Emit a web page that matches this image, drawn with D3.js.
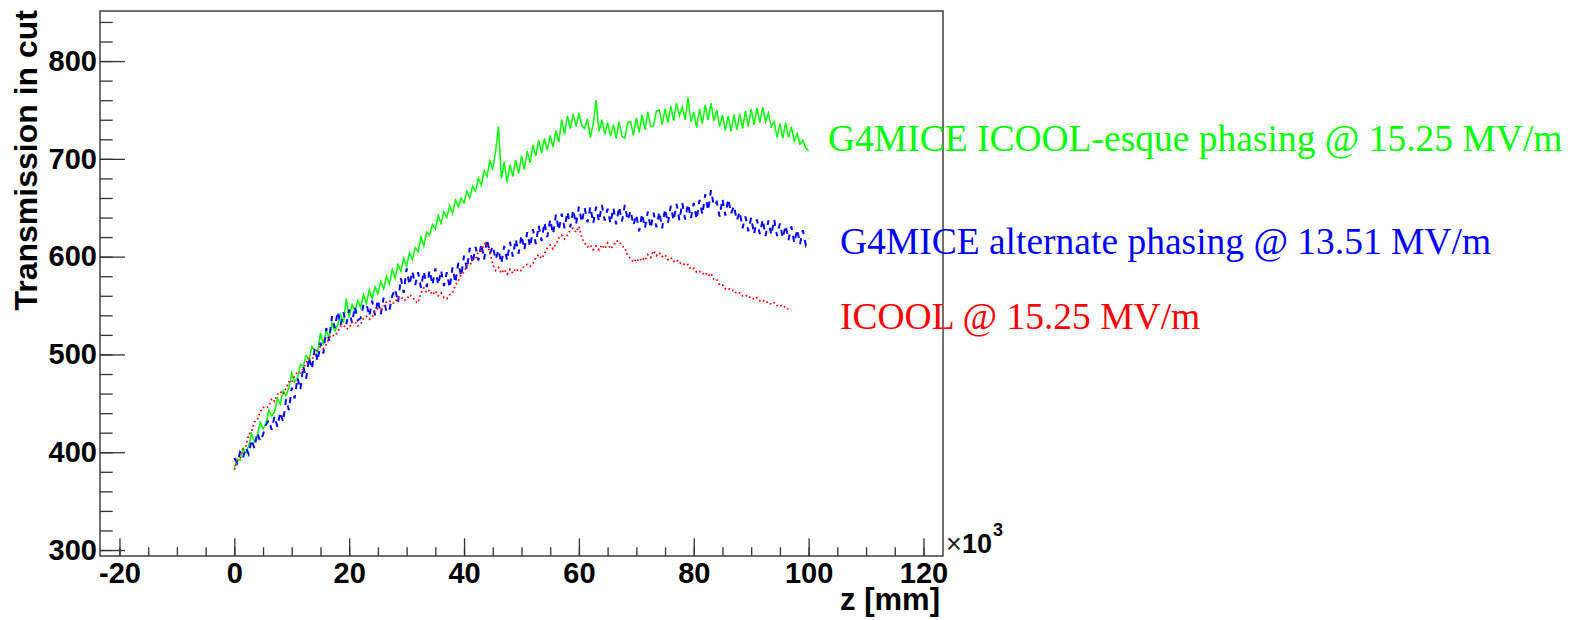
<!DOCTYPE html>
<html>
<head>
<meta charset="utf-8">
<script src="https://cdn.jsdelivr.net/npm/d3@7"></script>
<style>
  html, body { margin: 0; padding: 0; background: #fff; }
  svg { display: block; }
  .tick text { font-family: "Liberation Sans", Arial, sans-serif; font-weight: bold; font-size: 29px; fill: #000; }
  .tick line { stroke: #333; stroke-width: 1.3; }
</style>
</head>
<body>
<svg id="chart" width="1571" height="620"></svg>
<script>
// ---- data (z in units of 10^3 mm, transmission counts) ----
const Z_STEP = 0.5;

// G4MICE ICOOL-esque phasing @ 15.25 MV/m
const greenValues = [
  384, 393, 392, 404, 399, 406, 419, 411, 417, 431,
  424, 429, 443, 437, 441, 455, 449, 463, 458, 466,
  481, 472, 476, 490, 488, 499, 494, 508, 505, 502,
  522, 510, 525, 517, 532, 524, 530, 541, 532, 557,
  538, 551, 544, 555, 548, 561, 552, 566, 557, 569,
  562, 575, 567, 580, 572, 587, 578, 592, 585, 598,
  590, 604, 597, 609, 605, 620, 611, 625, 622, 633,
  628, 642, 634, 646, 640, 652, 644, 658, 651, 660,
  655, 667, 660, 672, 667, 680, 673, 688, 682, 698,
  690, 708, 733, 680, 697, 676, 694, 682, 699, 685,
  703, 689, 708, 696, 714, 703, 719, 706, 721, 709,
  724, 712, 729, 717, 740, 725, 744, 731, 746, 733,
  747, 734, 731, 741, 722, 736, 760, 728, 740, 725,
  737, 723, 735, 721, 738, 723, 721, 737, 738, 724,
  742, 727, 745, 730, 748, 733, 734, 749, 750, 735,
  751, 737, 754, 739, 757, 744, 753, 740, 763, 738,
  748, 732, 751, 736, 755, 740, 757, 739, 750, 733,
  745, 729, 744, 728, 745, 730, 746, 731, 749, 733,
  751, 735, 752, 737, 753, 738, 747, 733, 738, 722,
  736, 721, 737, 722, 733, 718, 726, 715, 719, 711,
  708
];

// G4MICE alternate phasing @ 13.51 MV/m
const blueValues = [
  394, 389, 400, 394, 405, 398, 413, 404, 420, 411,
  418, 428, 433, 423, 437, 426, 441, 431, 454, 443,
  466, 455, 476, 464, 488, 475, 497, 485, 506, 493,
  512, 501, 527, 514, 539, 527, 544, 530, 543, 531,
  546, 532, 549, 535, 537, 551, 552, 539, 555, 540,
  556, 541, 558, 543, 545, 560, 567, 553, 578, 563,
  588, 571, 585, 571, 584, 568, 585, 569, 586, 571,
  588, 571, 586, 570, 584, 568, 589, 573, 594, 580,
  601, 587, 609, 593, 610, 596, 613, 597, 618, 603,
  611, 597, 607, 593, 611, 596, 615, 600, 618, 603,
  622, 607, 625, 610, 628, 613, 632, 616, 635, 620,
  638, 623, 643, 627, 644, 629, 646, 630, 648, 633,
  651, 635, 650, 635, 651, 634, 651, 636, 653, 637,
  649, 634, 650, 633, 651, 636, 653, 637, 647, 632,
  643, 626, 644, 629, 646, 629, 645, 630, 646, 629,
  649, 634, 652, 637, 654, 637, 655, 638, 654, 639,
  655, 638, 658, 643, 664, 647, 668, 652, 656, 641,
  659, 642, 659, 644, 652, 637, 646, 629, 641, 626,
  640, 623, 638, 623, 638, 621, 637, 622, 638, 621,
  634, 619, 632, 617, 631, 614, 628, 613, 627, 612,
  619
];

// ICOOL @ 15.25 MV/m
const redValues = [
  382, 391, 394, 403, 406, 418, 421, 431, 433, 441,
  446, 445, 447, 455, 452, 459, 462, 459, 465, 472,
  471, 478, 482, 481, 485, 492, 496, 495, 499, 505,
  508, 506, 510, 517, 520, 519, 523, 529, 530, 526,
  527, 533, 534, 529, 531, 537, 539, 536, 538, 545,
  547, 546, 548, 554, 555, 552, 553, 559, 559, 555,
  556, 561, 559, 554, 553, 563, 568, 563, 566, 561,
  565, 560, 563, 558, 557, 561, 563, 571, 575, 582,
  584, 591, 591, 597, 598, 605, 606, 613, 614, 604,
  592, 586, 589, 583, 587, 582, 587, 583, 588, 585,
  586, 591, 592, 590, 593, 599, 602, 598, 603, 609,
  612, 608, 613, 619, 622, 618, 622, 627, 629, 625,
  631, 619, 614, 610, 612, 607, 611, 607, 612, 608,
  614, 608, 611, 616, 616, 611, 609, 601, 598, 594,
  598, 595, 599, 596, 602, 599, 606, 601, 604, 600,
  602, 597, 599, 595, 597, 593, 594, 591, 592, 587,
  588, 584, 585, 582, 584, 580, 583, 577, 577, 571,
  571, 567, 568, 565, 566, 562, 563, 560, 561, 558,
  559, 556, 558, 555, 556, 553, 554, 551, 553, 550,
  551, 548, 549, 546, 545
];

const seriesLabels = [
  "G4MICE ICOOL-esque phasing @ 15.25 MV/m",
  "G4MICE alternate phasing @ 13.51 MV/m",
  "ICOOL @ 15.25 MV/m"
];
const seriesColors = ["#00ff00", "#0000ff", "#ff0000"];

const xMajorTicks = [-20, 0, 20, 40, 60, 80, 100, 120];
const yMajorTicks = [300, 400, 500, 600, 700, 800];
const xMinorTicks = d3.range(-20, 121, 5);
const yMinorTicks = d3.range(300, 841, 20);

const xDomain = [-23.39, 123.4];
const yDomain = [293.9, 851.2];

// ---- layout ----
const frame = { left: 100, right: 943, top: 11, bottom: 556 };
const svg = d3.select("#chart");

const x = d3.scaleLinear().domain(xDomain).range([frame.left, frame.right]);
const y = d3.scaleLinear().domain(yDomain).range([frame.bottom, frame.top]);

// plain hyphen-minus, as in the original plot style
const plainFormat = d => String(d);

// minor ticks
svg.append("g")
  .attr("transform", `translate(0,${frame.bottom})`)
  .call(d3.axisBottom(x).tickValues(xMinorTicks).tickSize(-8.7).tickFormat(""))
  .call(g => g.select(".domain").remove());
svg.append("g")
  .attr("transform", `translate(${frame.left},0)`)
  .call(d3.axisLeft(y).tickValues(yMinorTicks).tickSize(-12.7).tickFormat(""))
  .call(g => g.select(".domain").remove());

// major ticks with labels
svg.append("g")
  .attr("transform", `translate(0,${frame.bottom})`)
  .call(d3.axisBottom(x).tickValues(xMajorTicks).tickSize(-17.7).tickPadding(6).tickFormat(plainFormat))
  .call(g => g.select(".domain").remove());
svg.append("g")
  .attr("transform", `translate(${frame.left},0)`)
  .call(d3.axisLeft(y).tickValues(yMajorTicks).tickSize(-25).tickPadding(3).tickFormat(plainFormat))
  .call(g => g.select(".domain").remove());

// frame
svg.append("rect")
  .attr("x", frame.left).attr("y", frame.top)
  .attr("width", frame.right - frame.left).attr("height", frame.bottom - frame.top)
  .attr("fill", "none").attr("stroke", "#333").attr("stroke-width", 1.4);

// data lines
const line = d3.line()
  .x((d, i) => x(i * Z_STEP))
  .y(d => y(d));

const seriesData = [greenValues, blueValues, redValues];
const dashes = [null, "6,6", "1.6,2.8"];
const widths = [1.5, 2, 1.8];
const plot = svg.append("g");
seriesData.forEach((vals, k) => {
  plot.append("path")
    .datum(vals)
    .attr("d", line)
    .attr("fill", "none")
    .attr("stroke", seriesColors[k])
    .attr("stroke-width", widths[k])
    .attr("stroke-dasharray", dashes[k]);
});

// axis titles
svg.append("text")
  .attr("x", frame.right - 3).attr("y", 610)
  .attr("text-anchor", "end")
  .style("font-family", "'Liberation Sans', Arial, sans-serif")
  .style("font-weight", "bold").style("font-size", "31px")
  .text("z [mm]");

svg.append("text")
  .attr("transform", "translate(37,10) rotate(-90)")
  .attr("text-anchor", "end")
  .style("font-family", "'Liberation Sans', Arial, sans-serif")
  .style("font-weight", "bold").style("font-size", "32px")
  .text("Transmission in cut");

// exponent marker for the z axis
const expoFont = "'Liberation Sans', Arial, sans-serif";
svg.append("text")
  .attr("x", 946).attr("y", 553)
  .style("font-family", expoFont).style("font-size", "27px").attr("fill", "#222")
  .text("\u00d7");
svg.append("text")
  .attr("x", 962).attr("y", 553)
  .style("font-family", expoFont).style("font-weight", "bold").style("font-size", "27px")
  .text("10");
svg.append("text")
  .attr("x", 993).attr("y", 536)
  .style("font-family", expoFont).style("font-weight", "bold").style("font-size", "18px")
  .text("3");

// series labels
const labelPos = [[828, 151], [840, 254], [840, 329]];
seriesLabels.forEach((t, k) => {
  svg.append("text")
    .attr("x", labelPos[k][0]).attr("y", labelPos[k][1])
    .style("font-family", "'Liberation Serif', 'Times New Roman', serif")
    .style("font-size", "37.5px")
    .attr("fill", seriesColors[k])
    .text(t);
});
</script>
</body>
</html>
